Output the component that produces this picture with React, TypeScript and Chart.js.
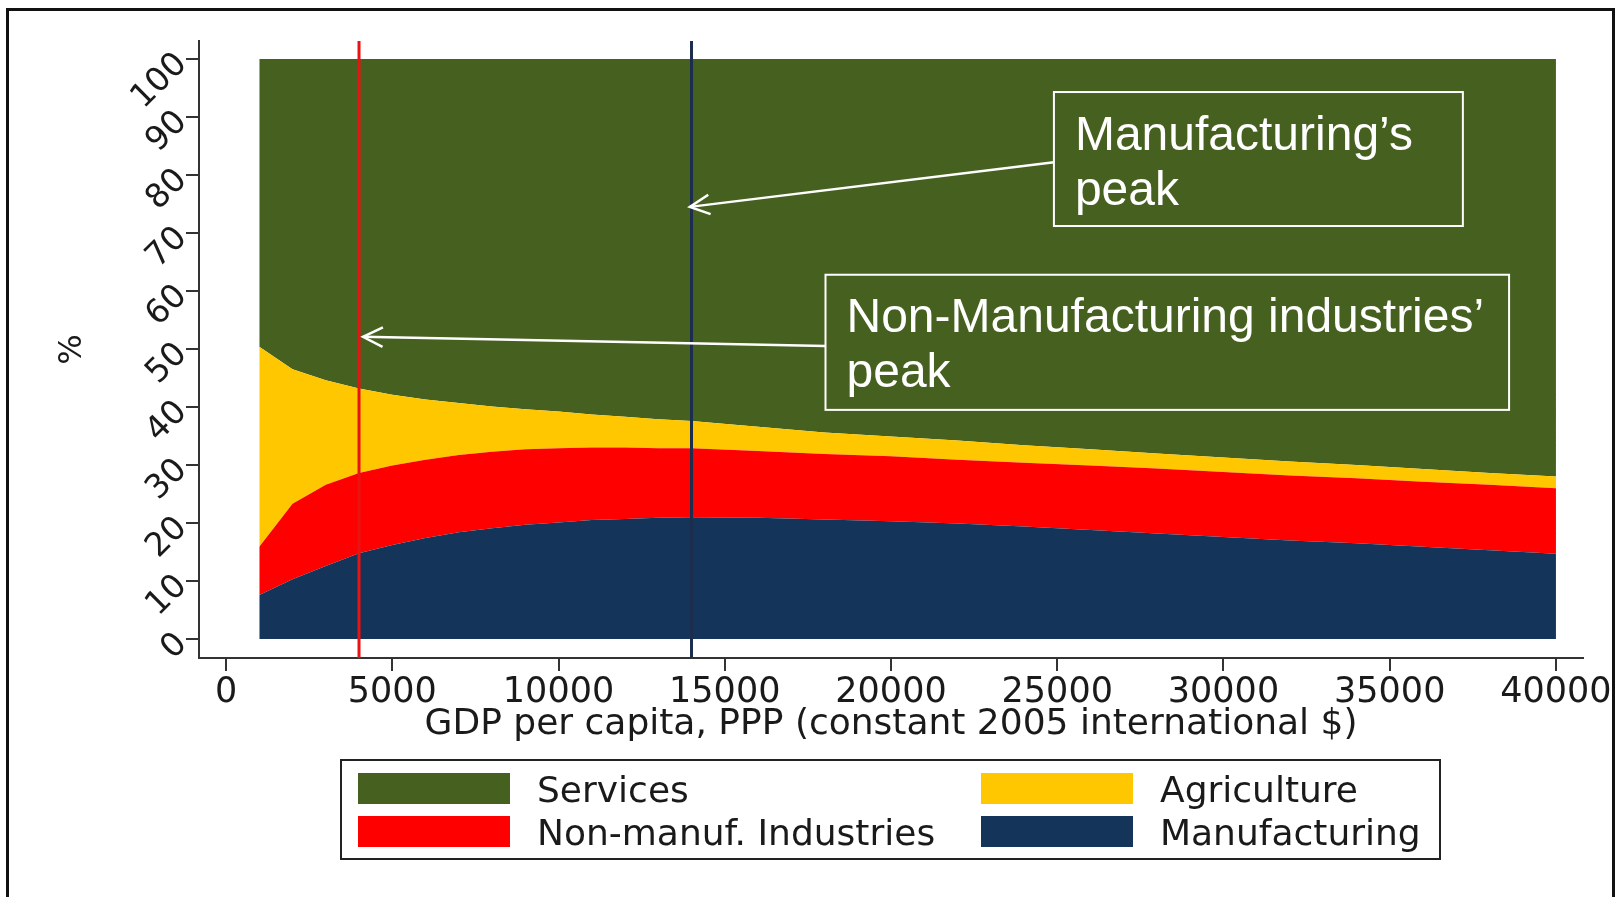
import React, { useEffect, useRef } from "react";
import { Chart, registerables } from "chart.js";

Chart.register(...registerables);

// ---- data ----
const GDP = [1000, 2000, 3000, 4000, 5000, 6000, 7000, 8000, 9000, 10000, 11000, 12000, 13000, 14000, 16000, 18000, 20000, 22000, 24000, 26000, 28000, 30000, 32000, 34000, 36000, 38000, 40000];
const MANUFACTURING = [7.6, 10.3, 12.6, 14.8, 16.2, 17.4, 18.4, 19.1, 19.7, 20.1, 20.5, 20.7, 20.9, 21.0, 20.9, 20.6, 20.3, 19.9, 19.4, 18.8, 18.2, 17.6, 17.0, 16.5, 15.9, 15.3, 14.7];
const NON_MANUF = [8.3, 13.0, 14.0, 13.8, 13.7, 13.5, 13.3, 13.2, 13.0, 12.8, 12.5, 12.3, 12.0, 11.9, 11.5, 11.3, 11.2, 11.0, 11.0, 11.1, 11.2, 11.2, 11.2, 11.2, 11.2, 11.3, 11.3];
const AGRICULTURE = [34.5, 23.2, 18.0, 14.6, 12.2, 10.4, 9.0, 7.8, 6.9, 6.3, 5.7, 5.3, 5.0, 4.7, 4.2, 3.7, 3.4, 3.3, 3.0, 2.8, 2.6, 2.5, 2.4, 2.3, 2.2, 2.0, 2.0];
const SERVICES = [49.6, 53.5, 55.4, 56.8, 57.9, 58.7, 59.3, 59.9, 60.4, 60.8, 61.3, 61.7, 62.1, 62.4, 63.4, 64.4, 65.1, 65.8, 66.6, 67.3, 68.0, 68.7, 69.4, 70.0, 70.7, 71.4, 72.0];

const SERIES_LABELS = ["Manufacturing", "Non-manuf. Industries", "Agriculture", "Services"];
const X_TICKS = [0, 5000, 10000, 15000, 20000, 25000, 30000, 35000, 40000];
const Y_TICKS = [0, 10, 20, 30, 40, 50, 60, 70, 80, 90, 100];
const X_RANGE = [-813, 40813];
const Y_RANGE = [-3.28, 103.1];
const PEAK_X = [4000, 14000]; // non-manufacturing peak, manufacturing peak
const X_TITLE = "GDP per capita, PPP (constant 2005 international $)";
const Y_TITLE = "%";
const LEGEND_ROWS = [
  ["Services", "Agriculture"],
  ["Non-manuf. Industries", "Manufacturing"],
];
const NOTE_LINES = [
  ["Manufacturing\u2019s", "peak"],
  ["Non-Manufacturing industries\u2019", "peak"],
];

// ---- styles / layout ----
const COLORS = ["#143459", "#ff0000", "#ffc700", "#46601f"];
const PEAK_COLORS = ["#e81414", "#1c2d4d"];
const AXIS_FONT = "'DejaVu Sans', sans-serif";
const NOTE_FONT = "'Liberation Sans', Arial, sans-serif";
const TEXT_COLOR = "#1a1a1a";

// annotation boxes in data coordinates
const NOTE_BOXES = [
  { x1: 24900, x2: 37200, yTop: 94.3, yBottom: 71.2, fromY: 82.2, toX: 13950, toY: 74.5 },
  { x1: 18030, x2: 38590, yTop: 62.8, yBottom: 39.5, fromY: 50.5, toX: 4120, toY: 52.1 },
];

const LEGEND_BOX = { left: 341, top: 760, right: 1440, bottom: 859 };
const LEGEND_COLS = [{ swatch: 358, text: 537 }, { swatch: 981, text: 1160 }];
const LEGEND_ROW_Y = [788.5, 831.5];
const SWATCH = { w: 152, h: 31 };

const overlayPlugin = {
  id: "overlay",
  afterDatasetsDraw(chart: any) {
    const { ctx, chartArea: a, scales } = chart;
    const x = scales.x;
    const y = scales.y;
    ctx.save();
    PEAK_X.forEach((v, i) => {
      const px = x.getPixelForValue(v);
      ctx.strokeStyle = PEAK_COLORS[i];
      ctx.lineWidth = 3;
      ctx.beginPath();
      ctx.moveTo(px, a.top);
      ctx.lineTo(px, a.bottom);
      ctx.stroke();
    });
    NOTE_BOXES.forEach((n, i) => {
      const x1 = x.getPixelForValue(n.x1);
      const x2 = x.getPixelForValue(n.x2);
      const y1 = y.getPixelForValue(n.yTop);
      const y2 = y.getPixelForValue(n.yBottom);
      ctx.strokeStyle = "#ffffff";
      ctx.lineWidth = 2;
      ctx.strokeRect(x1, y1, x2 - x1, y2 - y1);
      ctx.fillStyle = "#ffffff";
      ctx.font = `48px ${NOTE_FONT}`;
      ctx.textAlign = "left";
      ctx.textBaseline = "alphabetic";
      NOTE_LINES[i].forEach((t, k) => ctx.fillText(t, x1 + 21, y1 + 57.5 + k * 55));
      const ax = x1;
      const ay = y.getPixelForValue(n.fromY);
      const tx = x.getPixelForValue(n.toX);
      const ty = y.getPixelForValue(n.toY);
      ctx.lineWidth = 2.5;
      ctx.beginPath();
      ctx.moveTo(ax, ay);
      ctx.lineTo(tx, ty);
      ctx.stroke();
      const ang = Math.atan2(ay - ty, ax - tx);
      const L = 22;
      const s = 0.46;
      ctx.beginPath();
      ctx.moveTo(tx + L * Math.cos(ang + s), ty + L * Math.sin(ang + s));
      ctx.lineTo(tx, ty);
      ctx.lineTo(tx + L * Math.cos(ang - s), ty + L * Math.sin(ang - s));
      ctx.stroke();
    });
    ctx.restore();
  },
  afterDraw(chart: any) {
    const { ctx } = chart;
    const ds = chart.data.datasets;
    ctx.save();
    ctx.strokeStyle = "#222";
    ctx.lineWidth = 2;
    ctx.strokeRect(LEGEND_BOX.left, LEGEND_BOX.top, LEGEND_BOX.right - LEGEND_BOX.left, LEGEND_BOX.bottom - LEGEND_BOX.top);
    ctx.font = `36px ${AXIS_FONT}`;
    ctx.textAlign = "left";
    ctx.textBaseline = "middle";
    LEGEND_ROWS.forEach((row, r) => {
      row.forEach((label, c) => {
        const d = ds.find((e: any) => e.label === label);
        const cy = LEGEND_ROW_Y[r];
        ctx.fillStyle = d ? d.backgroundColor : "#000";
        ctx.fillRect(LEGEND_COLS[c].swatch, cy - SWATCH.h / 2, SWATCH.w, SWATCH.h);
        ctx.fillStyle = TEXT_COLOR;
        ctx.fillText(label, LEGEND_COLS[c].text, cy + 4);
      });
    });
    ctx.restore();
  },
};

const SERIES = [MANUFACTURING, NON_MANUF, AGRICULTURE, SERVICES];

export default function App() {
  const ref = useRef<HTMLCanvasElement | null>(null);
  useEffect(() => {
    document.documentElement.style.overflow = "hidden";
    const canvas = ref.current;
    if (!canvas) return;
    const chart = new Chart(canvas, {
      type: "line",
      data: {
        datasets: SERIES.map((vals, i) => ({
          label: SERIES_LABELS[i],
          data: GDP.map((g, k) => ({ x: g, y: vals[k] })),
          backgroundColor: COLORS[i],
          borderColor: COLORS[i],
          borderWidth: 0,
          pointRadius: 0,
          tension: 0,
          fill: i === 0 ? "origin" : "-1",
        })),
      },
      options: {
        responsive: false,
        maintainAspectRatio: false,
        animation: false,
        events: [],
        layout: { padding: { left: 0, top: 41, right: 33, bottom: 150.4 } },
        plugins: { legend: { display: false }, tooltip: { enabled: false } },
        scales: {
          x: {
            type: "linear",
            min: X_RANGE[0],
            max: X_RANGE[1],
            afterBuildTicks: (s: any) => {
              s.ticks = X_TICKS.map((v) => ({ value: v }));
            },
            afterFit: (s: any) => {
              s.height = 88.6;
            },
            grid: { drawOnChartArea: false, drawTicks: true, tickLength: 13, color: "#333", lineWidth: 2 },
            border: { display: true, color: "#333", width: 2 },
            ticks: {
              autoSkip: false,
              maxRotation: 0,
              minRotation: 0,
              padding: 1,
              color: TEXT_COLOR,
              font: { family: AXIS_FONT, size: 35 },
              callback: (v: any) => String(v),
            },
            title: {
              display: true,
              text: X_TITLE,
              color: TEXT_COLOR,
              font: { family: AXIS_FONT, size: 36 },
              padding: { top: 0, bottom: 0 },
            },
          },
          y: {
            type: "linear",
            stacked: true,
            min: Y_RANGE[0],
            max: Y_RANGE[1],
            afterBuildTicks: (s: any) => {
              s.ticks = Y_TICKS.map((v) => ({ value: v }));
            },
            afterFit: (s: any) => {
              s.width = 199;
            },
            grid: { drawOnChartArea: false, drawTicks: true, tickLength: 13, color: "#333", lineWidth: 2 },
            border: { display: true, color: "#333", width: 2 },
            ticks: {
              autoSkip: false,
              minRotation: 45,
              maxRotation: 45,
              padding: 4,
              color: TEXT_COLOR,
              font: { family: AXIS_FONT, size: 33 },
              callback: (v: any) => String(v),
            },
            title: {
              display: true,
              text: Y_TITLE,
              color: TEXT_COLOR,
              font: { family: AXIS_FONT, size: 32 },
              padding: { top: 53, bottom: 0 },
            },
          },
        },
      },
      plugins: [overlayPlugin],
    } as any);
    return () => chart.destroy();
  }, []);

  return (
    <div style={{ position: "absolute", left: 0, top: 0, width: 1616, height: 897, overflow: "hidden", background: "#ffffff" }}>
      <canvas ref={ref} width={1616} height={897} style={{ position: "absolute", left: 0, top: 0, width: 1616, height: 897 }} />
      <div
        style={{
          position: "absolute",
          left: 6,
          top: 8,
          width: 1609,
          height: 1000,
          border: "3px solid #111",
          boxSizing: "border-box",
          pointerEvents: "none",
        }}
      />
    </div>
  );
}
